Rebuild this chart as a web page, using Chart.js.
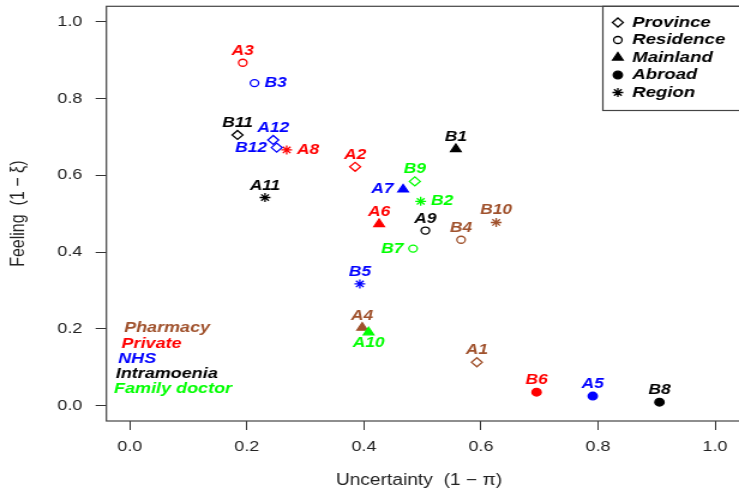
<!DOCTYPE html>
<html>
<head>
<meta charset="utf-8">
<script src="https://cdn.jsdelivr.net/npm/chart.js@4/dist/chart.umd.min.js"></script>
<style>
html, body { margin: 0; padding: 0; overflow: hidden; background: #fff; }
</style>
</head>
<body>
<!-- the original picture is stretched sideways, so the canvas is too -->
<canvas id="plot" width="616" height="491" style="display:block;width:739px;height:491px"></canvas>
<script>
var pointNames  = ["A1", "A2", "A3", "A4", "A5", "A6", "A7", "A8", "A9", "A10", "A11", "A12",
                   "B1", "B2", "B3", "B4", "B5", "B6", "B7", "B8", "B9", "B10", "B11", "B12"];
var uncertainty = [0.593, 0.385, 0.193, 0.397, 0.791, 0.426, 0.467, 0.268, 0.505, 0.408, 0.231, 0.245,
                   0.557, 0.497, 0.213, 0.566, 0.393, 0.695, 0.484, 0.905, 0.487, 0.626, 0.184, 0.251];
var feeling     = [0.113, 0.622, 0.893, 0.203, 0.025, 0.473, 0.563, 0.666, 0.456, 0.191, 0.542, 0.692,
                   0.668, 0.532, 0.840, 0.432, 0.317, 0.035, 0.409, 0.009, 0.584, 0.477, 0.705, 0.672];
var provider    = ["Pharmacy", "Private", "Private", "Pharmacy", "NHS", "Private", "NHS", "Private",
                   "Intramoenia", "Family doctor", "Intramoenia", "NHS",
                   "Intramoenia", "Family doctor", "NHS", "Pharmacy", "NHS", "Private", "Family doctor",
                   "Intramoenia", "Family doctor", "Pharmacy", "Intramoenia", "NHS"];
var place       = ["Province", "Province", "Residence", "Mainland", "Abroad", "Mainland", "Mainland", "Region",
                   "Residence", "Mainland", "Region", "Province",
                   "Mainland", "Region", "Residence", "Residence", "Region", "Abroad", "Residence",
                   "Abroad", "Province", "Region", "Province", "Province"];
var labelSide   = ["up", "up", "up", "up", "up", "up", "left", "right", "up", "down", "up", "up",
                   "up", "right", "right", "up", "up", "up", "left", "up", "up", "up", "up", "left"];
var providerNames = ["Pharmacy", "Private", "NHS", "Intramoenia", "Family doctor"];
var placeNames    = ["Province", "Residence", "Mainland", "Abroad", "Region"];
var axisTicks     = [0, 0.2, 0.4, 0.6, 0.8, 1.0];

var providerColor = {
    "Pharmacy": "#A0522D",
    "Private": "#FF0000",
    "NHS": "#0000FF",
    "Intramoenia": "#000000",
    "Family doctor": "#00FF00"
};
// chart.js point style, radius and whether it is filled
var placeSymbol = {
    "Province":  { style: "rectRot",  r: 4.5, fill: false },
    "Residence": { style: "circle",   r: 3.5, fill: false },
    "Mainland":  { style: "triangle", r: 5,   fill: true },
    "Abroad":    { style: "circle",   r: 3.8, fill: true },
    "Region":    { style: "star",     r: 4.5, fill: false }
};

var FONT = "'Liberation Sans', Arial, sans-serif";
var LABEL_FONT = "italic bold 14.5px " + FONT;

var pts = uncertainty.map(function (u, i) { return { x: u, y: feeling[i] }; });
var colors = provider.map(function (p) { return providerColor[p]; });

// small symbol painter for the legend box
function drawSymbol(ctx, kind, x, y, color) {
    var s = placeSymbol[kind], r = s.r;
    ctx.save();
    ctx.strokeStyle = color;
    ctx.fillStyle = color;
    ctx.lineWidth = 1.3;
    ctx.beginPath();
    if (s.style === "rectRot") {
        ctx.moveTo(x - r, y); ctx.lineTo(x, y - r); ctx.lineTo(x + r, y); ctx.lineTo(x, y + r);
        ctx.closePath();
    } else if (s.style === "circle") {
        ctx.arc(x, y, r, 0, Math.PI * 2);
    } else if (s.style === "triangle") {
        ctx.moveTo(x, y - r);
        ctx.lineTo(x + r * Math.sin(Math.PI * 2 / 3), y - r * Math.cos(Math.PI * 2 / 3));
        ctx.lineTo(x + r * Math.sin(Math.PI * 4 / 3), y - r * Math.cos(Math.PI * 4 / 3));
        ctx.closePath();
    } else {
        for (var k = 0; k < 4; k++) {
            var a = k * Math.PI / 4;
            ctx.moveTo(x - Math.cos(a) * r, y - Math.sin(a) * r);
            ctx.lineTo(x + Math.cos(a) * r, y + Math.sin(a) * r);
        }
    }
    if (s.fill) ctx.fill();
    ctx.stroke();
    ctx.restore();
}

var decorations = {
    id: "decorations",
    beforeDatasetsDraw: function (chart) {
        var ctx = chart.ctx, a = chart.chartArea;
        ctx.save();
        ctx.strokeStyle = "#444";
        ctx.lineWidth = 1.2;
        // right side of the frame is cut off in the original
        ctx.strokeRect(a.left, a.top, a.right - a.left + 20, a.bottom - a.top);
        ctx.restore();
    },
    afterDatasetsDraw: function (chart) {
        var ctx = chart.ctx, a = chart.chartArea;
        var meta = chart.getDatasetMeta(0);

        // point names
        ctx.save();
        ctx.font = LABEL_FONT;
        meta.data.forEach(function (el, i) {
            ctx.fillStyle = colors[i];
            var side = labelSide[i];
            if (side === "up") {
                ctx.textAlign = "center"; ctx.textBaseline = "middle";
                ctx.fillText(pointNames[i], el.x, el.y - 12);
            } else if (side === "down") {
                ctx.textAlign = "center"; ctx.textBaseline = "middle";
                ctx.fillText(pointNames[i], el.x, el.y + 11);
            } else if (side === "right") {
                ctx.textAlign = "left"; ctx.textBaseline = "middle";
                ctx.fillText(pointNames[i], el.x + 8.5, el.y);
            } else {
                ctx.textAlign = "right"; ctx.textBaseline = "middle";
                ctx.fillText(pointNames[i], el.x - 8, el.y);
            }
        });

        // provider colour key, bottom left
        ctx.font = "italic bold 15px " + FONT;
        ctx.textAlign = "left";
        ctx.textBaseline = "middle";
        var keyY = [328, 343.5, 359, 374, 389];
        var keyX = [14.7, 12.6, 9.8, 7.8, 6.4];
        providerNames.forEach(function (p, i) {
            ctx.fillStyle = providerColor[p];
            ctx.fillText(p, a.left + keyX[i], keyY[i]);
        });

        // place legend, top right
        var boxLeft = 502.5, boxBottom = 110.5;
        ctx.strokeStyle = "#444";
        ctx.lineWidth = 1.2;
        ctx.strokeRect(boxLeft, a.top, 200, boxBottom - a.top);
        ctx.font = "italic bold 15.5px " + FONT;
        ctx.fillStyle = "#000";
        placeNames.forEach(function (p, i) {
            var y = 22.5 + i * 17.5;
            drawSymbol(ctx, p, 515, y, "#000");
            ctx.fillText(p, 527, y);
        });
        ctx.restore();
    }
};

function fixedTicks(scale) {
    scale.ticks = axisTicks.map(function (v) { return { value: v }; });
}

new Chart(document.getElementById("plot"), {
    type: "scatter",
    data: {
        datasets: [{
            data: pts,
            pointStyle: place.map(function (p) { return placeSymbol[p].style; }),
            pointRadius: place.map(function (p) { return placeSymbol[p].r; }),
            pointBorderColor: colors,
            pointBackgroundColor: place.map(function (p, i) {
                return placeSymbol[p].fill ? colors[i] : "rgba(0,0,0,0)";
            }),
            pointBorderWidth: 1.3,
            showLine: false
        }]
    },
    options: {
        responsive: false,
        animation: false,
        devicePixelRatio: 1,
        events: [],
        layout: { padding: { top: 6, left: 0, right: 0, bottom: 0 } },
        plugins: {
            legend: { display: false },
            tooltip: { enabled: false }
        },
        scales: {
            x: {
                type: "linear",
                min: -0.04,
                max: 1.028,
                afterBuildTicks: fixedTicks,
                afterFit: function (s) { s.height = 70; s.paddingLeft = 0; s.paddingRight = 0; },
                border: { display: false },
                grid: { drawOnChartArea: false, drawTicks: true, tickLength: 9, color: "#333", lineWidth: 1 },
                ticks: {
                    color: "#222",
                    padding: 8,
                    maxRotation: 0,
                    autoSkip: false,
                    font: { family: FONT, size: 15 },
                    callback: function (v) { return Number(v).toFixed(1); }
                },
                title: {
                    display: true,
                    text: "Uncertainty  (1 \u2212 \u03C0)",
                    color: "#222",
                    font: { family: FONT, size: 16 },
                    padding: { top: 0, bottom: 1 }
                }
            },
            y: {
                type: "linear",
                min: -0.04,
                max: 1.04,
                afterBuildTicks: fixedTicks,
                afterFit: function (s) { s.width = 88.7; s.paddingTop = 0; s.paddingBottom = 0; },
                border: { display: false },
                grid: { drawOnChartArea: false, drawTicks: true, tickLength: 9, color: "#333", lineWidth: 1 },
                ticks: {
                    color: "#222",
                    padding: 11,
                    autoSkip: false,
                    font: { family: FONT, size: 15 },
                    callback: function (v) { return Number(v).toFixed(1); }
                },
                title: {
                    display: true,
                    text: "Feeling  (1 \u2212 \u03BE)",
                    color: "#222",
                    font: { family: FONT, size: 16 },
                    padding: { top: 6, bottom: 0 }
                }
            }
        }
    },
    plugins: [decorations]
});
</script>
</body>
</html>
